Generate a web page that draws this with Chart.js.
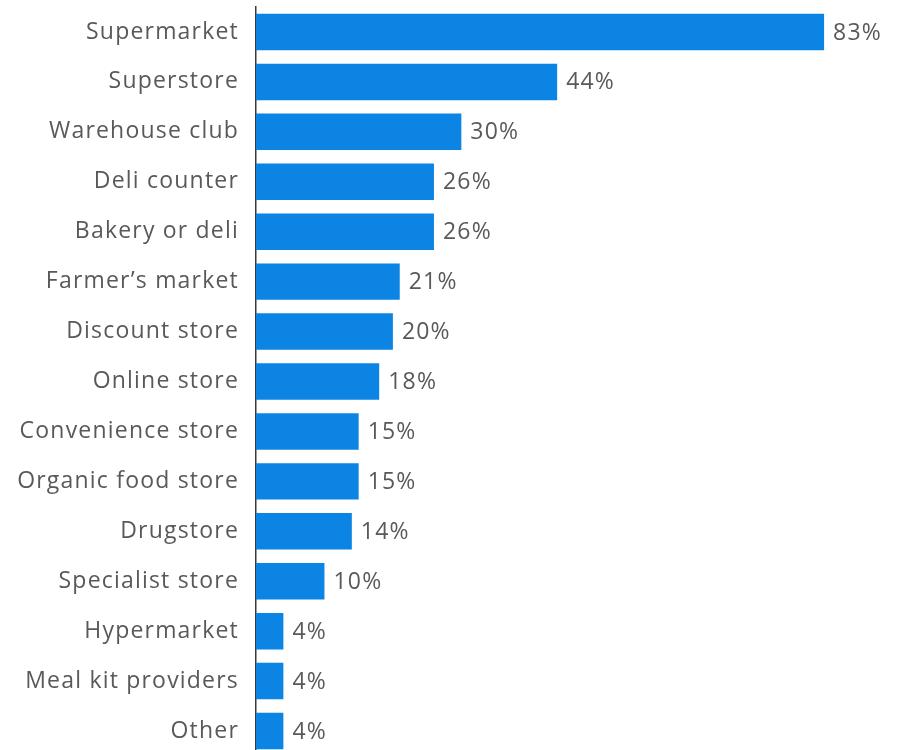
<!DOCTYPE html>
<html>
<head>
<meta charset="utf-8">
<script src="https://cdn.jsdelivr.net/npm/chart.js@4"></script>
<style>
  html, body { margin: 0; padding: 0; background: #fff; overflow: hidden; }
  #wrap { width: 901px; height: 756px; }
</style>
</head>
<body>
<div id="wrap"><canvas id="storeChart"></canvas></div>
<script>
const categories = [
    "Supermarket", "Superstore", "Warehouse club", "Deli counter", "Bakery or deli",
    "Farmer\u2019s market", "Discount store", "Online store", "Convenience store",
    "Organic food store", "Drugstore", "Specialist store", "Hypermarket",
    "Meal kit providers", "Other"
];
const shares = [83, 44, 30, 26, 26, 21, 20, 18, 15, 15, 14, 10, 4, 4, 4];

const textColor = "#595959";
const labelFont = { family: "'Open Sans', sans-serif", size: 23 };

// wider letters, like the original deck styling
const spacing = {
    id: "spacing",
    beforeDraw(chart) {
        chart.ctx.letterSpacing = "1.2px";
    }
};

// percentage printed just past the end of each bar
const valueLabels = {
    id: "valueLabels",
    afterDatasetsDraw(chart) {
        const ctx = chart.ctx;
        const meta = chart.getDatasetMeta(0);
        ctx.save();
        ctx.letterSpacing = "1.2px";
        ctx.font = labelFont.size + "px " + labelFont.family;
        ctx.fillStyle = textColor;
        ctx.textAlign = "left";
        ctx.textBaseline = "middle";
        meta.data.forEach((bar, i) => {
            ctx.fillText(shares[i] + "%", bar.x + 9, bar.y + 1);
        });
        ctx.restore();
    }
};

new Chart(document.getElementById("storeChart"), {
    type: "bar",
    data: {
        labels: categories,
        datasets: [{
            data: shares,
            backgroundColor: "#0b84e3",
            barPercentage: 0.73,
            categoryPercentage: 1
        }]
    },
    options: {
        indexAxis: "y",
        responsive: true,
        maintainAspectRatio: false,
        animation: false,
        layout: { padding: { top: 7, right: 29, left: 0, bottom: 0 } },
        plugins: {
            legend: { display: false },
            tooltip: { enabled: false }
        },
        scales: {
            x: {
                display: false,
                min: 0,
                max: 90
            },
            y: {
                afterFit(scale) {
                    scale.width = 256;
                    scale.paddingTop = 0;
                    scale.paddingBottom = 0;
                },
                grid: { display: false, drawTicks: false },
                border: { display: true, color: "#3a3a3a", width: 1.5 },
                ticks: {
                    color: textColor,
                    font: labelFont,
                    padding: 17
                }
            }
        }
    },
    plugins: [spacing, valueLabels]
});
</script>
</body>
</html>
